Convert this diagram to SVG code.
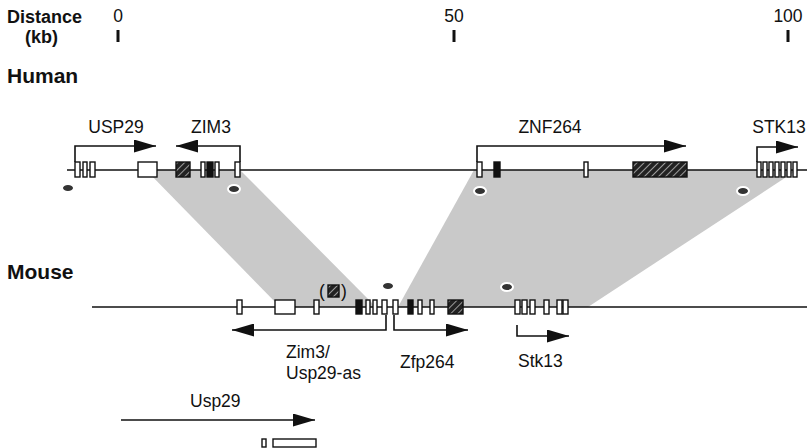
<svg xmlns="http://www.w3.org/2000/svg" width="807" height="448" viewBox="0 0 807 448">
<style>
text{font-family:"Liberation Sans",Arial,sans-serif;fill:#111}
.hd{font-weight:bold;font-size:18px}
.sp{font-weight:bold;font-size:21px}
.lb{font-size:17.5px}
.ex{fill:#fff;stroke:#111;stroke-width:1.4}
.bk{fill:#111;stroke:#111;stroke-width:1.4}
.ht{fill:url(#hatch);stroke:#111;stroke-width:1.4}
.ln{stroke:#111;stroke-width:1.6;fill:none}
.tick{stroke:#111;stroke-width:3}
.dot{fill:#333;stroke:#fff;stroke-width:2}
.syn{fill:#c9c9c9}
</style>
<defs>
<pattern id="hatch" patternUnits="userSpaceOnUse" width="5" height="5" patternTransform="rotate(45)">
<rect width="5" height="5" fill="#222"/>
<line x1="0" y1="0" x2="0" y2="5" stroke="#ddd" stroke-width="1.3"/>
</pattern>
<marker id="ah" viewBox="0 0 22 13" refX="22" refY="6.5" markerWidth="22" markerHeight="13" markerUnits="userSpaceOnUse" orient="auto">
<path d="M0,0 L22,6.5 L0,13 Z" fill="#111"/>
</marker>
</defs>

<g id="scale">
<text class="hd" x="7" y="23">Distance</text>
<text class="hd" x="25" y="43">(kb)</text>
<text class="lb" x="118" y="22" text-anchor="middle">0</text>
<text class="lb" x="454" y="22" text-anchor="middle">50</text>
<text class="lb" x="788" y="22" text-anchor="middle">100</text>
<line class="tick" x1="118" y1="30" x2="118" y2="42"/>
<line class="tick" x1="454" y1="30" x2="454" y2="42"/>
<line class="tick" x1="788" y1="30" x2="788" y2="42"/>
</g>

<g id="synteny">
<polygon class="syn" points="146,170 240,170 376,307 280,307"/>
<polygon class="syn" points="474,170 797,170 588,307 398,307"/>
</g>

<g id="human">
<text class="sp" x="7" y="83">Human</text>
<line class="ln" x1="67" y1="170" x2="807" y2="170"/>
<rect class="ex" x="75" y="162" width="5" height="15"/>
<rect class="ex" x="83" y="162" width="4" height="15"/>
<rect class="ex" x="90" y="162" width="5" height="15"/>
<rect class="ex" x="138" y="162" width="19" height="15"/>
<rect class="ht" x="176" y="162" width="14" height="15"/>
<rect class="ex" x="201" y="162" width="4" height="15"/>
<rect class="bk" x="207" y="162" width="6" height="15"/>
<rect class="ex" x="215" y="162" width="4" height="15"/>
<rect class="ex" x="235" y="162" width="5" height="15"/>
<rect class="ex" x="477" y="162" width="5" height="15"/>
<rect class="bk" x="494" y="162" width="6" height="15"/>
<rect class="ex" x="584" y="162" width="4" height="15"/>
<rect class="ht" x="633" y="162" width="54" height="15"/>
<rect class="ex" x="757" y="162" width="4" height="15"/>
<rect class="ex" x="763" y="162" width="4" height="15"/>
<rect class="ex" x="769" y="162" width="4" height="15"/>
<rect class="ex" x="775" y="162" width="4" height="15"/>
<rect class="ex" x="781" y="162" width="4" height="15"/>
<rect class="ex" x="787" y="162" width="4" height="15"/>
<rect class="ex" x="793" y="162" width="4" height="15"/>
<ellipse class="dot" cx="68" cy="188" rx="6" ry="4" stroke="none"/>
<ellipse class="dot" cx="234" cy="189" rx="6" ry="4"/>
<ellipse class="dot" cx="480" cy="191" rx="6" ry="4"/>
<ellipse class="dot" cx="743" cy="191" rx="6" ry="4"/>
</g>

<g id="human-genes">
<text class="lb" x="116" y="133" text-anchor="middle">USP29</text>
<text class="lb" x="211" y="133" text-anchor="middle">ZIM3</text>
<text class="lb" x="550" y="133" text-anchor="middle">ZNF264</text>
<text class="lb" x="779" y="133" text-anchor="middle">STK13</text>
</g>

<g id="mouse">
<text class="sp" x="7" y="279">Mouse</text>
<line class="ln" x1="92" y1="307" x2="807" y2="307"/>
<rect class="ex" x="237" y="300" width="5" height="14"/>
<rect class="ex" x="275" y="300" width="20" height="14"/>
<rect class="ex" x="314" y="300" width="5" height="14"/>
<rect class="bk" x="356" y="300" width="6" height="14"/>
<rect class="ex" x="366" y="300" width="4" height="14"/>
<rect class="ex" x="373" y="300" width="4" height="14"/>
<rect class="ex" x="382" y="300" width="5" height="14"/>
<rect class="ex" x="393" y="300" width="5" height="14"/>
<rect class="bk" x="408" y="300" width="5" height="14"/>
<rect class="ex" x="418" y="300" width="4" height="14"/>
<rect class="ex" x="430" y="300" width="4" height="14"/>
<rect class="ht" x="448" y="300" width="15" height="14"/>
<rect class="ex" x="515" y="300" width="5" height="14"/>
<rect class="ex" x="522" y="300" width="5" height="14"/>
<rect class="ex" x="530" y="300" width="5" height="14"/>
<rect class="ex" x="544" y="300" width="5" height="14"/>
<rect class="ex" x="557" y="300" width="5" height="14"/>
<rect class="ex" x="563" y="300" width="5" height="14"/>
<text class="lb" x="319" y="297">(</text>
<rect class="ht" x="328" y="285" width="11" height="12"/>
<text class="lb" x="341" y="297">)</text>
<ellipse class="dot" cx="388" cy="286" rx="6" ry="4" stroke="none"/>
<ellipse class="dot" cx="507" cy="287" rx="6" ry="4"/>
</g>

<g id="mouse-genes">
<text class="lb" x="286" y="358">Zim3/</text>
<text class="lb" x="286" y="379">Usp29-as</text>
<text class="lb" x="400" y="368">Zfp264</text>
<text class="lb" x="518" y="367">Stk13</text>
</g>

<g id="usp29-mouse">
<text class="lb" x="190" y="407">Usp29</text>
<rect class="ex" x="262" y="439" width="4" height="8"/>
<rect class="ex" x="273" y="439" width="43" height="8"/>
</g>

<g id="connectors">
<path class="ln" d="M75,162 V146 H156" marker-end="url(#ah)"/>
<path class="ln" d="M240,162 V146 H176" marker-end="url(#ah)"/>
<path class="ln" d="M477,162 V146 H686" marker-end="url(#ah)"/>
<path class="ln" d="M757,162 V147 H798" marker-end="url(#ah)"/>
<path class="ln" d="M386,315 V330 H232" marker-end="url(#ah)"/>
<path class="ln" d="M394,315 V330 H468" marker-end="url(#ah)"/>
<path class="ln" d="M517,325 V336 H569" marker-end="url(#ah)"/>
<path class="ln" d="M121,420 H315" marker-end="url(#ah)"/>
</g>
</svg>
